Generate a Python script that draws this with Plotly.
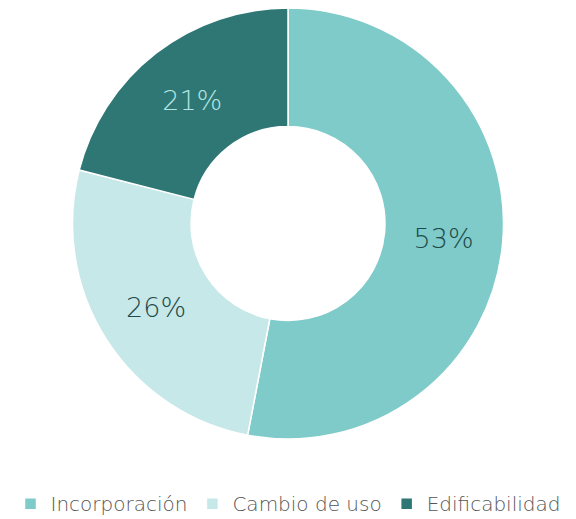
import plotly.graph_objects as go

labels = ["Incorporación", "Cambio de uso", "Edificabilidad"]
values = [53, 26, 21]
colors = ["#7fcbc9", "#c7e8e8", "#2f7775"]
text_colors = ["#1e4a4a", "#1e4a4a", "#b3e6e3"]

fig = go.Figure(go.Pie(
    labels=labels,
    values=values,
    hole=0.45,
    sort=False,
    direction="clockwise",
    rotation=0,
    marker=dict(colors=colors, line=dict(color="white", width=1.5)),
    texttemplate="%{percent:.0%}",
    textposition="inside",
    insidetextorientation="horizontal",
    textfont=dict(family="DejaVu Sans", size=27, color=text_colors, weight=200),
    showlegend=True,
    domain=dict(x=[0, 1], y=[0, 1]),
))

fig.update_layout(
    width=576, height=519,
    margin=dict(l=0, r=16, t=0, b=88),
    paper_bgcolor="white",
    plot_bgcolor="white",
    legend=dict(
        orientation="h",
        x=0.5, xanchor="center",
        y=-0.15, yanchor="middle",
        font=dict(family="DejaVu Sans", size=20, color="#555555", weight=200),
        itemwidth=30,
    ),
)

fig.write_html("out.html")
